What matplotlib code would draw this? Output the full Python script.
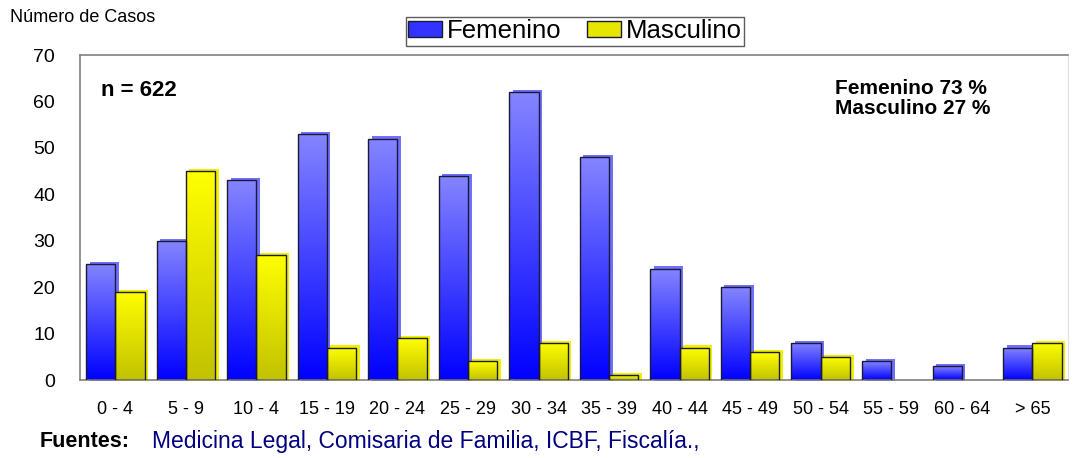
import numpy as np
import matplotlib
matplotlib.use("Agg")
import matplotlib.pyplot as plt
from matplotlib.patches import Rectangle
from matplotlib.colors import LinearSegmentedColormap

plt.rcParams["font.family"] = ["Liberation Sans", "DejaVu Sans"]

grupos = ["0 - 4", "5 - 9", "10 - 4", "15 - 19", "20 - 24", "25 - 29", "30 - 34",
          "35 - 39", "40 - 44", "45 - 49", "50 - 54", "55 - 59", "60 - 64", "> 65"]
femenino = [25, 30, 43, 53, 52, 44, 62, 48, 24, 20, 8, 4, 3, 7]
masculino = [19, 45, 27, 7, 9, 4, 8, 1, 7, 6, 5, 0, 0, 8]

fig = plt.figure(figsize=(10.73, 4.58), dpi=100)
ax = fig.add_axes([0.0746, 0.1703, 0.9204, 0.7096])

cmap_f = LinearSegmentedColormap.from_list("f", ["#0000ff", "#8585ff"])
cmap_m = LinearSegmentedColormap.from_list("m", ["#c2c200", "#ffff00"])

x = np.arange(len(grupos))
w = 0.415
grad = np.linspace(0, 1, 256).reshape(-1, 1)


def gradient_bars(xs, vals, cmap, shcol):
    for xi, v in zip(xs, vals):
        if v <= 0:
            continue
        # sombra desplazada
        ax.add_patch(Rectangle((xi + 0.05, -0.3), w, v + 0.75, facecolor=shcol,
                               edgecolor="none", zorder=1, clip_on=False))
        rect = Rectangle((xi, 0), w, v, facecolor="none", edgecolor="#1a1a33",
                         linewidth=1.0, zorder=3)
        ax.add_patch(rect)
        im = ax.imshow(grad, cmap=cmap, origin="lower", aspect="auto",
                       extent=(xi, xi + w, 0, v), zorder=2)
        im.set_clip_path(rect)


gradient_bars(x + 0.085, femenino, cmap_f, "#7070ff")
gradient_bars(x + 0.085 + w, masculino, cmap_m, "#f0f000")

ax.set_xlim(0, len(grupos))
ax.set_ylim(0, 70)
ax.set_xticks(x + 0.5)
ax.set_xticklabels(grupos, fontsize=13)
ax.set_yticks(range(0, 71, 10))
ax.tick_params(axis="y", length=0, labelsize=14, pad=18)
ax.tick_params(axis="x", length=0, pad=15)
for s in ax.spines.values():
    s.set_color("#808080")
    s.set_linewidth(1.2)
ax.spines["right"].set_color("#e0e0e0")
ax.spines["right"].set_linewidth(0.8)

ax.text(0.021, 0.892, "n = 622", transform=ax.transAxes, fontsize=16,
        fontweight="bold", va="center")
ax.text(0.764, 0.866, "Femenino 73 %\nMasculino 27 %", transform=ax.transAxes,
        fontsize=15, fontweight="bold", va="center", linespacing=1.05)

fig.text(0.009, 0.962, "Número de Casos", fontsize=13, va="center")

h_f = Rectangle((0, 0), 1, 1, facecolor="#3333ff", edgecolor="#1a1a33")
h_m = Rectangle((0, 0), 1, 1, facecolor="#e6e600", edgecolor="#1a1a33")
fig.legend([h_f, h_m], ["Femenino", "Masculino"], loc="center",
           bbox_to_anchor=(0.536, 0.932), ncol=2, fontsize=18.5, frameon=True,
           fancybox=False, edgecolor="#333333", borderpad=0.1,
           handlelength=1.3, handleheight=0.55, handletextpad=0.2,
           columnspacing=1.0, borderaxespad=0.0)

fig.text(0.037, 0.036, "Fuentes:", fontsize=15.5, fontweight="bold", va="center")
fig.text(0.1415, 0.036, "Medicina Legal, Comisaria de Familia, ICBF, Fiscalía.,",
         fontsize=16.5, color="#000080", va="center")

fig.savefig("out.png", dpi=100)
